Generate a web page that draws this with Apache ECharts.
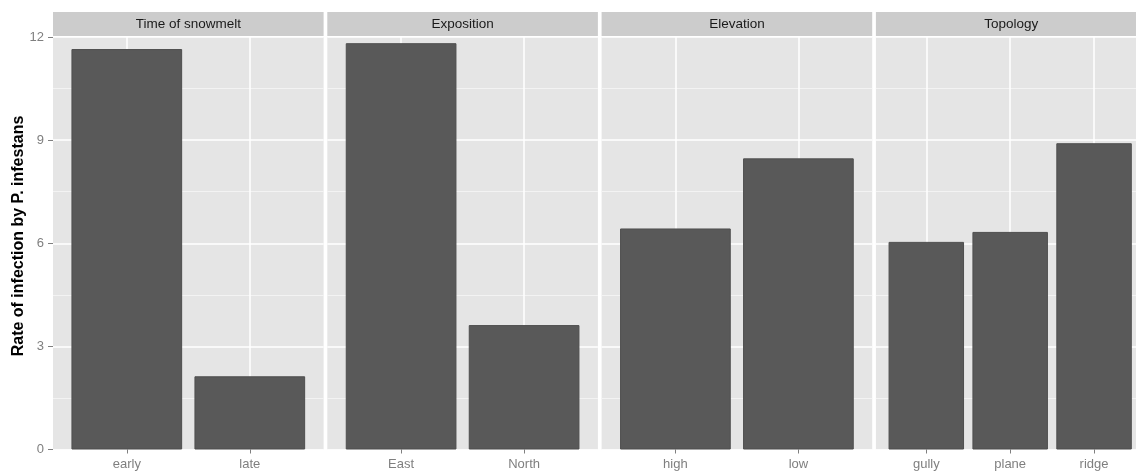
<!DOCTYPE html>
<html><head><meta charset="utf-8">
<script src="https://cdn.jsdelivr.net/npm/echarts@6/dist/echarts.min.js"></script>
<style>html,body{margin:0;padding:0;background:#fff}#c{width:1136px;height:474px}</style>
</head><body><div id="c"></div>
<script>
// ---- data ----
const facetNames = ['Time of snowmelt', 'Exposition', 'Elevation', 'Topology'];
const snowmeltCats = ['early', 'late'];
const snowmeltValues = [11.65, 2.13];
const expositionCats = ['East', 'North'];
const expositionValues = [11.82, 3.62];
const elevationCats = ['high', 'low'];
const elevationValues = [6.43, 8.47];
const topologyCats = ['gully', 'plane', 'ridge'];
const topologyValues = [6.04, 6.33, 8.91];
const yTitle = 'Rate of infection by P. infestans';
const yMin = 0, yMax = 12, yStep = 3;

// ---- layout ----
const panels = [
  { cats: snowmeltCats, vals: snowmeltValues },
  { cats: expositionCats, vals: expositionValues },
  { cats: elevationCats, vals: elevationValues },
  { cats: topologyCats, vals: topologyValues }
];
const PW = 270.6, GAP = 3.7, LEFT0 = 53, TOP = 37, BOT = 449.5;
const STRIP_TOP = 12, STRIP_H = 24;
const FONT = '"Liberation Sans", Arial, sans-serif';

const grids = [], xAxes = [], yAxes = [], series = [], graphics = [];
panels.forEach((p, k) => {
  const left = LEFT0 + k * (PW + GAP);
  const n = p.cats.length;
  const u = PW / (n + 0.2);
  const gb = 2 * k, gi = 2 * k + 1;
  grids.push({ left: left, top: TOP, width: PW, height: BOT - TOP, show: true,
    backgroundColor: '#e5e5e5', borderWidth: 0 });
  xAxes.push({ type: 'value', gridIndex: gb, min: 0, max: 1, show: false });
  yAxes.push({
    type: 'value', gridIndex: gb, min: yMin, max: yMax, interval: yStep,
    axisLine: { show: false },
    axisTick: { show: k === 0, length: 5, lineStyle: { color: '#7f7f7f', width: 1 } },
    axisLabel: { show: k === 0, color: '#7f7f7f', fontSize: 13, fontFamily: FONT, margin: 9 },
    splitLine: { show: true, lineStyle: { color: '#ffffff', width: 1.5 } },
    minorTick: { show: false, splitNumber: 2 },
    minorSplitLine: { show: true, lineStyle: { color: '#f3f3f3', width: 1 } }
  });
  grids.push({ left: left + 0.1 * u, top: TOP, width: n * u, height: BOT - TOP, show: false });
  xAxes.push({
    type: 'category', gridIndex: gi, data: p.cats,
    axisLine: { show: false },
    axisTick: { show: true, alignWithLabel: true, length: 4, lineStyle: { color: '#7f7f7f' } },
    axisLabel: { color: '#7f7f7f', fontSize: 13, fontFamily: FONT, margin: 8 },
    splitLine: { show: true, alignWithLabel: true, lineStyle: { color: '#ffffff', width: 1.5 } }
  });
  yAxes.push({ type: 'value', gridIndex: gi, min: yMin, max: yMax, show: false });
  series.push({
    type: 'bar', xAxisIndex: gi, yAxisIndex: gi, data: p.vals, barWidth: '90%',
    itemStyle: { color: '#595959', borderColor: '#4f4f4f', borderWidth: 1 }, silent: true
  });
  graphics.push({ type: 'rect', shape: { x: left, y: STRIP_TOP, width: PW, height: STRIP_H },
    style: { fill: '#cccccc' }, silent: true });
  graphics.push({ type: 'text', x: left + PW / 2, y: STRIP_TOP + STRIP_H / 2,
    style: { text: facetNames[k], fill: '#1a1a1a', font: '13.5px ' + FONT,
      textAlign: 'center', textVerticalAlign: 'middle' }, silent: true });
});
graphics.push({ type: 'text', x: 19, y: 236, rotation: Math.PI / 2,
  style: { text: yTitle, fill: '#000', font: 'bold 16px ' + FONT,
    textAlign: 'center', textVerticalAlign: 'middle' }, silent: true });

const chart = echarts.init(document.getElementById('c'), null, { renderer: 'canvas' });
chart.setOption({
  animation: false,
  backgroundColor: '#ffffff',
  grid: grids, xAxis: xAxes, yAxis: yAxes, series: series, graphic: graphics
});
</script></body></html>
